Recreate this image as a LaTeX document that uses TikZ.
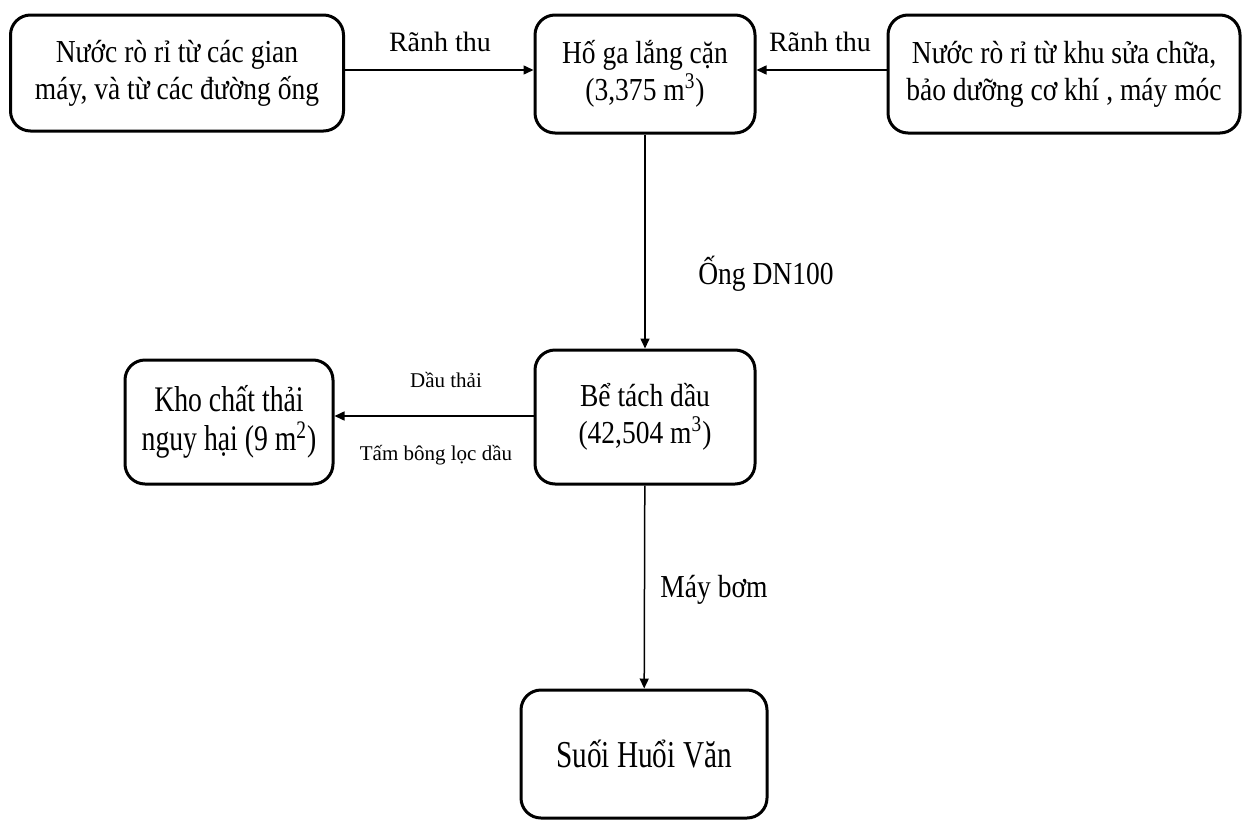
\documentclass[tikz,border=0pt]{standalone}
\usepackage{fontspec}
\setmainfont{Liberation Serif}
\newfontfamily\boxfont[FakeStretch=0.86]{Liberation Serif}
\newfontfamily\tallfont[FakeStretch=0.77]{Liberation Serif}
\usetikzlibrary{arrows.meta}

\begin{document}
\begin{tikzpicture}[x=0.5pt,y=-0.5pt,
        box/.style={draw,line width=1.5pt,rounded corners=10pt,align=center,
            inner sep=0pt,font=\boxfont\fontsize{16pt}{18.5pt}\selectfont},
        tallbox/.style={box,font=\tallfont\fontsize{18pt}{19.5pt}\selectfont},
        lbl/.style={font=\fontsize{14pt}{16pt}\selectfont},
        biglbl/.style={font=\boxfont\fontsize{16pt}{18.5pt}\selectfont},
        smalllbl/.style={font=\fontsize{10.5pt}{12pt}\selectfont},
        flow/.style={-{Triangle[length=5pt,width=4.5pt]},line width=0.75pt}]
    \useasboundingbox (0,0) rectangle (1246,819);

    \node[box,minimum width=166.5pt,minimum height=58pt] (src1) at (177,73)
        {Nước rò rỉ từ các gian\\máy, và từ các đường ống};
    \node[box,minimum width=110pt,minimum height=59pt] (hoga) at (645,74)
        {Hố ga lắng cặn\\(3,375 m\textsuperscript{3})};
    \node[box,minimum width=176pt,minimum height=59pt] (src2) at (1064,74)
        {Nước rò rỉ từ khu sửa chữa,\\bảo dưỡng cơ khí , máy móc};

    \node[box,minimum width=110pt,minimum height=67pt] (betach) at (645,417)
        {Bể tách dầu\\(42,504 m\textsuperscript{3})};
    \node[tallbox,minimum width=104pt,minimum height=62pt] (kho) at (229,422)
        {Kho chất thải\\nguy hại (9 m\textsuperscript{2})};

    \node[tallbox,font=\tallfont\fontsize{19pt}{19.5pt}\selectfont,
        minimum width=123pt,minimum height=64pt] (suoi) at (644,754)
        {Suối Huổi Văn};

    \draw[flow] (src1.east |- 0,70) -- (hoga.west |- 0,70);
    \draw[flow] (src2.west |- 0,70) -- (hoga.east |- 0,70);
    \draw[flow] (hoga) -- (betach);
    \draw[flow] (betach.west |- 0,416) -- (kho.east |- 0,416);
    \draw[flow] (betach) -- (suoi);

    % labels on the connectors
    \node[lbl] (l1) at (440,42) {Rãnh thu};
    \node[lbl] (l2) at (820,42) {Rãnh thu};
    \node[biglbl] (l3) at (766,274) {Ống DN100};
    \node[smalllbl] (l4) at (446,380) {Dầu thải};
    \node[smalllbl] (l5) at (436,455) {Tấm bông lọc dầu};
    \node[biglbl] (l6) at (714,590) {Máy bơm};
\end{tikzpicture}
\end{document}
